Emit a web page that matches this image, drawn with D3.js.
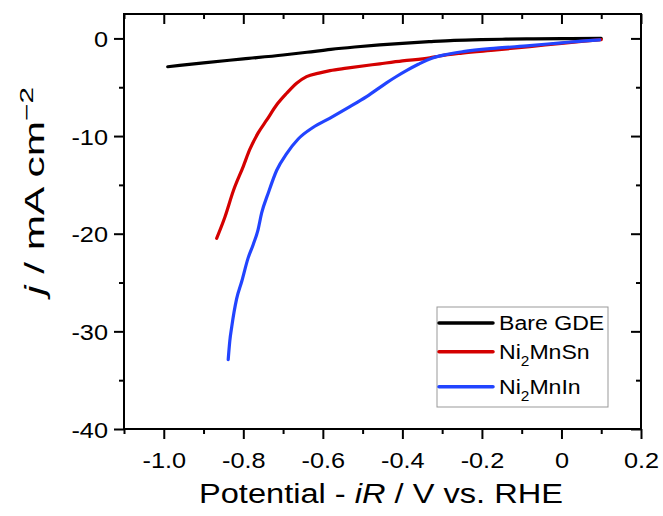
<!DOCTYPE html>
<html><head><meta charset="utf-8">
<script src="https://cdn.jsdelivr.net/npm/d3@7"></script>
<style>body{margin:0;background:#fff}svg{display:block}text{font-family:"Liberation Sans",Arial,sans-serif;fill:#000}</style>
</head><body><svg id="c" width="663" height="516"></svg>
<script>
const xTicks = [-1.0, -0.8, -0.6, -0.4, -0.2, 0, 0.2];
const xTickLabels = ["-1.0", "-0.8", "-0.6", "-0.4", "-0.2", "0", "0.2"];
const xMinor = [-1.1, -0.9, -0.7, -0.5, -0.3, -0.1, 0.1];
const yTicks = [-40, -30, -20, -10, 0];
const yTickLabels = ["-40", "-30", "-20", "-10", "0"];
const yMinor = [-35, -25, -15, -5];

const seriesNames = ["Bare GDE", "Ni2MnSn", "Ni2MnIn"];
const bareGDE = [[-0.99,-2.9],[-0.96,-2.76],[-0.9,-2.5],[-0.8,-2.1],[-0.7,-1.7],[-0.64,-1.42],[-0.58,-1.12],[-0.52,-0.88],[-0.457,-0.67],[-0.4,-0.5],[-0.331,-0.33],[-0.27,-0.2],[-0.2,-0.12],[-0.14,-0.08],[-0.08,-0.05],[0,-0.02],[0.1,0]];
const ni2MnSn = [[-0.867,-20.47],[-0.846,-18.26],[-0.825,-15.6],[-0.8,-13.1],[-0.784,-11.4],[-0.763,-9.7],[-0.741,-8.35],[-0.716,-6.8],[-0.691,-5.62],[-0.666,-4.59],[-0.641,-3.91],[-0.61,-3.55],[-0.582,-3.3],[-0.54,-3.05],[-0.457,-2.6],[-0.4,-2.3],[-0.331,-2.0],[-0.306,-1.8],[-0.25,-1.5],[-0.164,-1.18],[-0.08,-0.84],[0,-0.5],[0.05,-0.3],[0.1,-0.12]];
const ni2MnIn = [[-0.838,-32.9],[-0.834,-31.0],[-0.829,-29.5],[-0.817,-26.7],[-0.804,-24.9],[-0.788,-22.5],[-0.775,-21.1],[-0.763,-19.6],[-0.754,-17.9],[-0.737,-15.8],[-0.716,-13.5],[-0.691,-11.8],[-0.662,-10.3],[-0.624,-9.1],[-0.583,-8.18],[-0.532,-6.99],[-0.49,-5.96],[-0.44,-4.55],[-0.415,-3.9],[-0.39,-3.3],[-0.36,-2.65],[-0.331,-2.1],[-0.29,-1.65],[-0.247,-1.35],[-0.164,-1.0],[-0.08,-0.74],[0,-0.45],[0.05,-0.28],[0.096,-0.15]];
const colors = ["#000000", "#d40000", "#2244ff"];

const svg = d3.select("#c");
const L = 124, R = 641, T = 14, B = 429;
const x = d3.scaleLinear().domain([-1.1, 0.2]).range([L, R]);
const y = d3.scaleLinear().domain([-40, 2.5]).range([B, T]);
const SX = 1.15;

// curves
const line = d3.line().x(d => x(d[0])).y(d => y(d[1])).curve(d3.curveMonotoneX);
[bareGDE, ni2MnSn, ni2MnIn].forEach((s, i) => {
  svg.append("path").datum(s).attr("d", line).attr("fill", "none")
    .attr("stroke", colors[i]).attr("stroke-width", 3.2).attr("stroke-linecap", "round").attr("stroke-linejoin", "round");
});

// axes
function styleAxis(g) { g.select(".domain").remove(); g.selectAll("line").attr("stroke", "#000").attr("stroke-width", 2); }
const xb = svg.append("g").attr("transform", `translate(0,${B})`)
  .call(d3.axisBottom(x).tickValues(xTicks).tickSize(10).tickFormat((d, i) => xTickLabels[i]));
styleAxis(xb);
xb.selectAll("text").attr("font-size", 22).attr("y", 0).attr("dy", 0)
  .attr("transform", `translate(0,39) scale(${SX},1)`);
svg.append("g").attr("transform", `translate(0,${B})`)
  .call(d3.axisBottom(x).tickValues(xMinor).tickSize(5).tickFormat("")).call(styleAxis);
svg.append("g").attr("transform", `translate(0,${T})`)
  .call(d3.axisBottom(x).tickValues(xTicks).tickSize(10).tickFormat("")).call(styleAxis);
svg.append("g").attr("transform", `translate(0,${T})`)
  .call(d3.axisBottom(x).tickValues(xMinor).tickSize(5).tickFormat("")).call(styleAxis);

const yl = svg.append("g").attr("transform", `translate(${L},0)`)
  .call(d3.axisLeft(y).tickValues(yTicks).tickSize(10).tickFormat((d, i) => yTickLabels[i]));
styleAxis(yl);
yl.selectAll("text").attr("font-size", 22).attr("x", 0).attr("dy", 0)
  .attr("transform", `translate(-16,8) scale(${SX},1)`);
svg.append("g").attr("transform", `translate(${L},0)`)
  .call(d3.axisLeft(y).tickValues(yMinor).tickSize(5).tickFormat("")).call(styleAxis);
svg.append("g").attr("transform", `translate(${R},0)`)
  .call(d3.axisLeft(y).tickValues(yTicks).tickSize(10).tickFormat("")).call(styleAxis);
svg.append("g").attr("transform", `translate(${R},0)`)
  .call(d3.axisLeft(y).tickValues(yMinor).tickSize(5).tickFormat("")).call(styleAxis);

// frame
svg.append("rect").attr("x", L).attr("y", T).attr("width", R - L).attr("height", B - T)
  .attr("fill", "none").attr("stroke", "#000").attr("stroke-width", 2);

// axis titles
const xtitle = svg.append("text").attr("x", 381).attr("y", 503).attr("text-anchor", "middle")
  .attr("font-size", 27).attr("textLength", 364).attr("lengthAdjust", "spacingAndGlyphs");
xtitle.append("tspan").text("Potential - ");
xtitle.append("tspan").attr("font-style", "italic").text("iR");
xtitle.append("tspan").text(" / V vs. RHE");

const ytitle = svg.append("text").attr("transform", "translate(44,191) rotate(-90)")
  .attr("text-anchor", "middle").attr("font-size", 27)
  .attr("textLength", 208).attr("lengthAdjust", "spacingAndGlyphs");
ytitle.append("tspan").attr("font-style", "italic").text("j");
ytitle.append("tspan").text(" / mA cm");
ytitle.append("tspan").attr("font-size", 19).attr("dy", -11).text("\u22122");

// legend
svg.append("rect").attr("x", 437).attr("y", 307).attr("width", 171).attr("height", 100)
  .attr("fill", "#fff").attr("stroke", "#999").attr("stroke-width", 1);
const legY = [323, 351.7, 386.7];
const legLabels = [[["Bare GDE", 0]], [["Ni", 0], ["2", 1], ["MnSn", 0]], [["Ni", 0], ["2", 1], ["MnIn", 0]]];
seriesNames.forEach((n, i) => {
  svg.append("line").attr("x1", 439).attr("x2", 493).attr("y1", legY[i]).attr("y2", legY[i])
    .attr("stroke", colors[i]).attr("stroke-width", 3.5).attr("stroke-linecap", "round");
  const t = svg.append("text").attr("font-size", 21)
    .attr("transform", `translate(499,${legY[i] + 7}) scale(1.1,1)`);
  let sub = 0;
  legLabels[i].forEach(([s, isSub]) => {
    const ts = t.append("tspan").text(s);
    if (isSub && !sub) { ts.attr("font-size", 14).attr("dy", 7); sub = 1; }
    else if (!isSub && sub) { ts.attr("dy", -7); sub = 0; }
  });
});
</script></body></html>
